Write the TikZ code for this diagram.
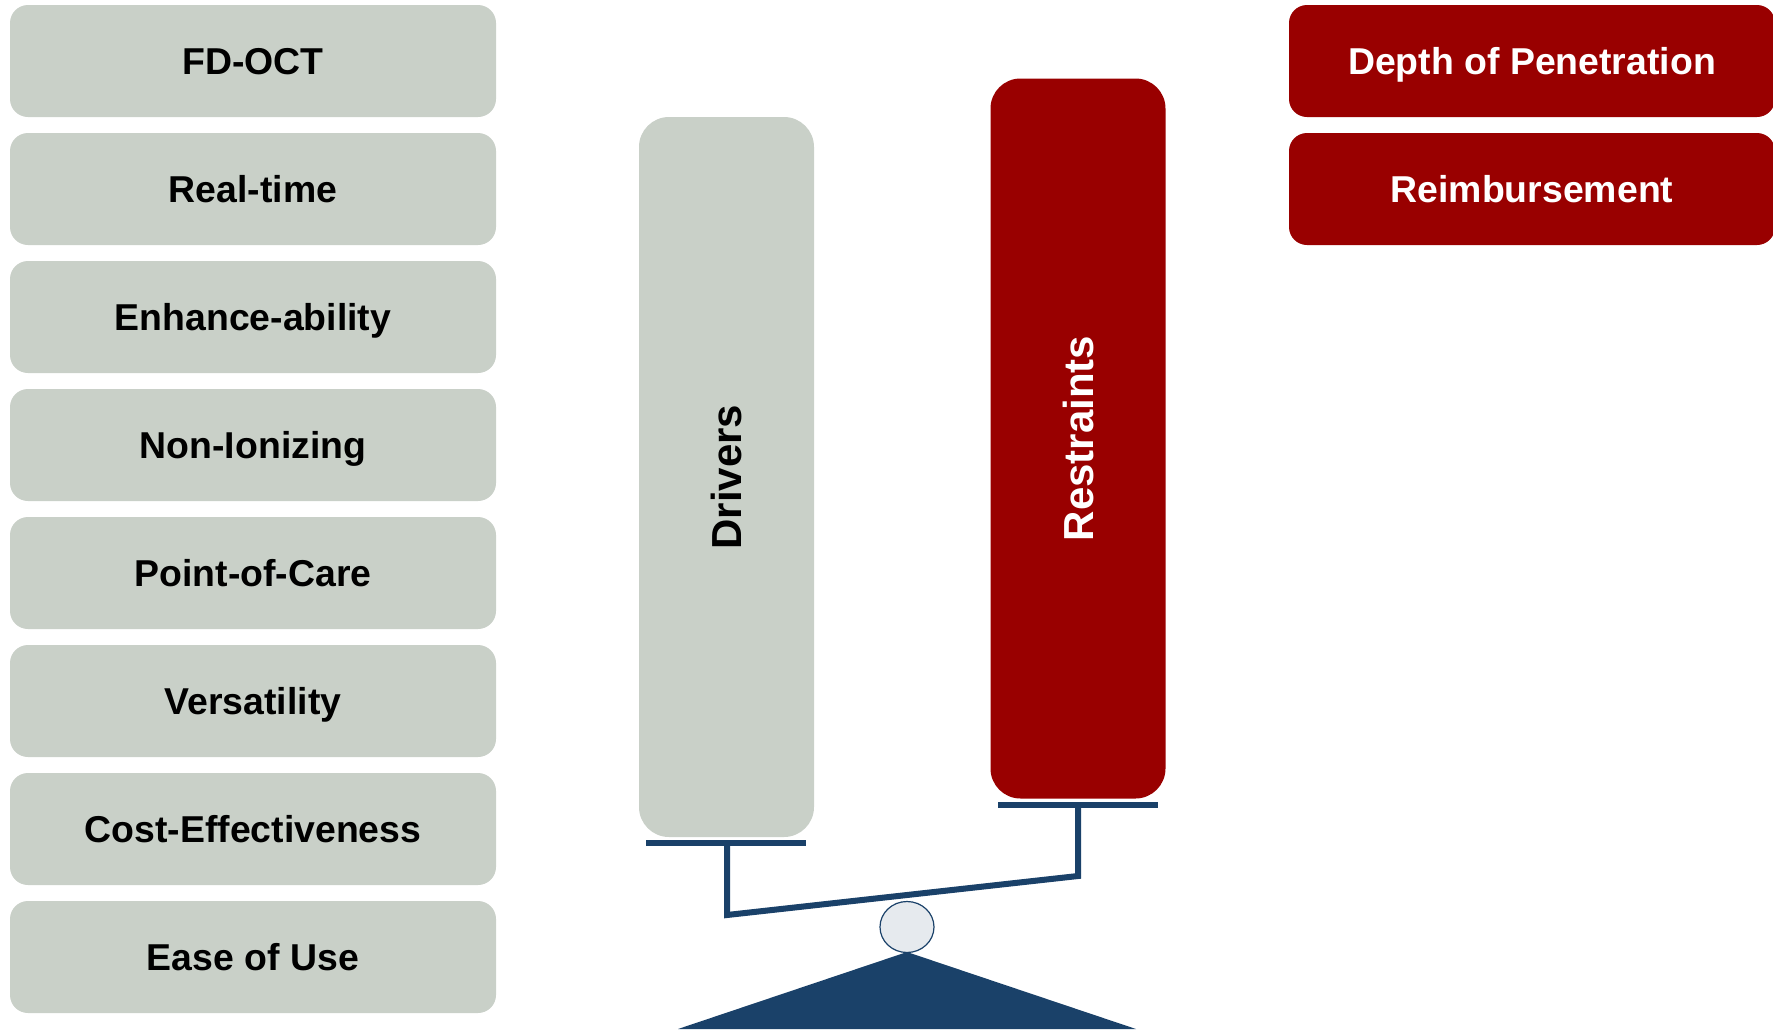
\documentclass[tikz,border=0pt]{standalone}
\usepackage{fontspec}
\setmainfont{Liberation Sans}
\usetikzlibrary{shapes.geometric}
\definecolor{drvgray}{HTML}{C9D0C8}
\definecolor{rsred}{HTML}{990000}
\definecolor{scblue}{HTML}{1A4169}
\definecolor{pivfill}{HTML}{E6EAEE}
\tikzset{
  item/.style={fill=drvgray, rounded corners=18pt, minimum width=486pt, minimum height=112pt, inner sep=0pt, font=\fontsize{37.4}{40}\selectfont\bfseries, text=black, text height=26.8pt, text depth=0pt},
  ritem/.style={item, fill=rsred, text=white},
  column/.style={rounded corners=30pt, minimum width=175pt, minimum height=720pt, inner sep=0pt},
  coltext/.style={rotate=90, inner sep=0pt, font=\fontsize{42}{46}\selectfont\bfseries, text height=30.1pt, text depth=0pt},
  bar/.style={draw=scblue, line width=6pt},
  beam/.style={draw=scblue, line width=6pt}
}
\begin{document}
\begin{tikzpicture}[x=1pt,y=-1pt]
\useasboundingbox (0,0) rectangle (1773,1029);
% left drivers list
\foreach \t [count=\i from 0] in {FD-OCT,Real-time,Enhance-ability,Non-Ionizing,Point-of-Care,Versatility,Cost-Effectiveness,Ease of Use}{
  \node[item] (d\i) at (253,{61+128*\i}) {\t};
}
% right restraints list
\node[ritem] (r0) at (1532,61) {Depth of Penetration};
\node[ritem] (r1) at (1532,189) {Reimbursement};
% columns
\node[column, fill=drvgray] (drv) at (726.5,477) {};
\node[coltext, text=black] (drvt) at (drv.center) {Drivers};
\node[column, fill=rsred] (rst) at (1078,438.5) {};
\node[coltext, text=white] (rstt) at (rst.center) {Restraints};
% scale
\coordinate (lt1) at (646,843);
\coordinate (lt2) at (806,843);
\coordinate (rt1) at (998,805);
\coordinate (rt2) at (1158,805);
\draw[bar] (lt1) -- (lt2);
\draw[bar] (rt1) -- (rt2);
\coordinate (lv) at (727,843);
\coordinate (lb) at (727,915);
\coordinate (rv) at (1078,805);
\coordinate (rb) at (1078,876);
\draw[beam, line join=miter] (lv) -- (lb) -- (rb) -- (rv);
% base triangle
\coordinate (apex) at (907,952);
\coordinate (bl) at (678,1029);
\coordinate (br) at (1136,1029);
\fill[scblue] (apex) -- (br) -- (bl) -- cycle;
% pivot
\node[ellipse, draw=scblue, line width=1.2pt, fill=pivfill, minimum width=54pt, minimum height=51pt, inner sep=0pt] (piv) at (907,927) {};
\end{tikzpicture}
\end{document}
